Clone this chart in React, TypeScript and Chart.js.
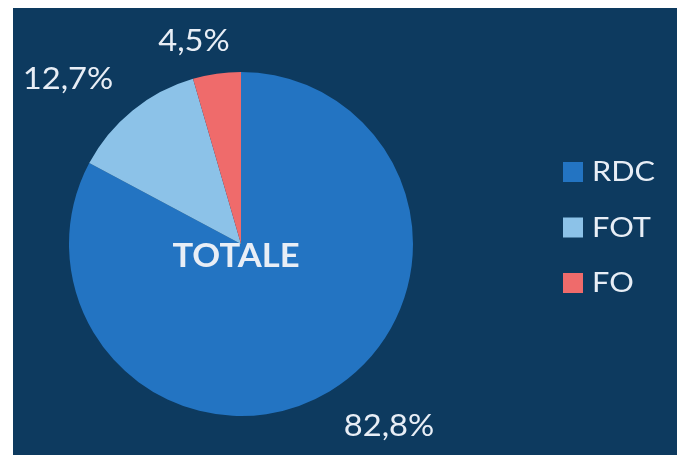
import React, { useEffect, useRef } from "react";
import { Chart, registerables } from "chart.js";

Chart.register(...registerables);

const categories = ["RDC", "FOT", "FO"];
const values = [82.8, 12.7, 4.5];
const valueLabels = ["82,8%", "12,7%", "4,5%"];
const centerTitle = "TOTALE";

const colors = ["#2374c2", "#8cc2e8", "#ef6b6b"];
const BG = "#0d3a5f";
const TEXT = "#e8eef6";
const FONT = "Lato, 'Open Sans', sans-serif";

// label anchor positions (layout only)
const labelPos = [
  { x: 389, y: 426 },
  { x: 68, y: 79 },
  { x: 194, y: 41 },
];

function drawText(ctx: CanvasRenderingContext2D, t: string, x: number, y: number, sx: number) {
  ctx.save();
  ctx.translate(x, y);
  ctx.scale(sx, 1);
  ctx.fillText(t, 0, 0);
  ctx.restore();
}

const decorPlugin = {
  id: "decor",
  beforeDraw(chart: any) {
    const ctx = chart.ctx;
    ctx.save();
    ctx.fillStyle = "#ffffff";
    ctx.fillRect(0, 0, chart.width, chart.height);
    ctx.fillStyle = BG;
    ctx.fillRect(13, 8, 664, chart.height - 8);
    ctx.restore();
  },
  afterDraw(chart: any) {
    const ctx = chart.ctx;
    const meta = chart.getDatasetMeta(0);
    ctx.save();
    ctx.fillStyle = TEXT;
    ctx.textAlign = "center";
    ctx.textBaseline = "middle";
    ctx.font = `400 30px ${FONT}`;
    valueLabels.forEach((t, i) => {
      drawText(ctx, t, labelPos[i].x, labelPos[i].y, 1.09);
    });
    const arc = meta.data[0];
    ctx.font = `700 32px ${FONT}`;
    drawText(ctx, centerTitle, arc.x - 5, arc.y + 13, 1.08);

    // legend
    ctx.textAlign = "left";
    ctx.font = `400 26px ${FONT}`;
    categories.forEach((c, i) => {
      const cy = 172 + i * 55.5;
      ctx.fillStyle = colors[i];
      ctx.fillRect(563, cy - 10, 20, 20);
      ctx.fillStyle = TEXT;
      drawText(ctx, c, 592, cy + 1, 1.18);
    });
    ctx.restore();
  },
};

export default function App() {
  const ref = useRef<HTMLCanvasElement | null>(null);
  useEffect(() => {
    if (!ref.current) return;
    const chart = new Chart(ref.current, {
      type: "pie",
      data: {
        labels: categories,
        datasets: [
          {
            data: values,
            backgroundColor: colors,
            borderWidth: 0,
          },
        ],
      },
      options: {
        responsive: false,
        animation: false,
        layout: { padding: { left: 69, right: 268, top: 72, bottom: 39 } },
        plugins: {
          legend: { display: false },
          tooltip: { enabled: false },
        },
      },
      plugins: [decorPlugin],
    });
    return () => chart.destroy();
  }, []);
  return (
    <div style={{ position: "fixed", left: 0, top: 0, width: 681, height: 455, background: "#fff" }}>
      <canvas ref={ref} width={681} height={455} style={{ display: "block" }} />
    </div>
  );
}
